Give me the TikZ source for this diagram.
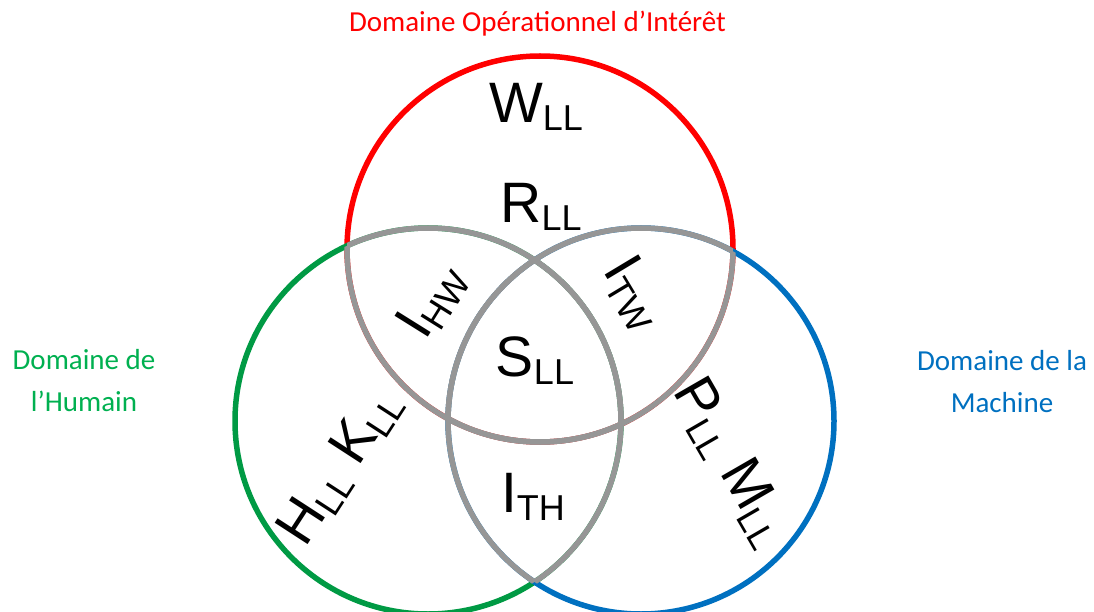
\documentclass[tikz,border=0pt]{standalone}
\usepackage{fontspec}
\setmainfont{Liberation Sans}
\newfontfamily\calib{Carlito}
\definecolor{cred}{HTML}{FF0000}
\definecolor{cgreen}{HTML}{009A44}
\definecolor{tgreen}{HTML}{00B050}
\definecolor{cblue}{HTML}{0070C0}
\definecolor{cgrey}{HTML}{969696}
\newcommand\mysub[2]{#1\raisebox{-8pt}{\fontsize{36}{36}\selectfont #2}}
\tikzset{
  ring/.style={line width=5.5pt},
  biglab/.style={inner sep=0pt, font=\fontsize{57}{57}\selectfont},
  domlab/.style={inner sep=0pt, align=center, font=\calib\fontsize{29}{42}\selectfont},
}
\begin{document}
\begin{tikzpicture}[x=1pt,y=-1pt]
\useasboundingbox (0,0) rectangle (1094,612);
\coordinate (cR) at (540,249);
\coordinate (cG) at (428,421);
\coordinate (cB) at (641,421);
\def\rr{193pt}
% coloured circles
\draw[ring, cred] (cR) circle[radius=\rr];
\draw[ring, cgreen] (cG) circle[radius=\rr];
\draw[ring, cblue] (cB) circle[radius=\rr];
% grey inner parts
\begin{scope}
  \clip (cG) circle[radius=\rr];
  \draw[ring, cgrey] (cR) circle[radius=\rr];
  \draw[ring, cgrey] (cB) circle[radius=\rr];
\end{scope}
\begin{scope}
  \clip (cB) circle[radius=\rr];
  \draw[ring, cgrey] (cR) circle[radius=\rr];
  \draw[ring, cgrey] (cG) circle[radius=\rr];
\end{scope}
\begin{scope}
  \clip (cR) circle[radius=\rr];
  \draw[ring, cgrey] (cG) circle[radius=\rr];
  \draw[ring, cgrey] (cB) circle[radius=\rr];
\end{scope}
% domain labels
\node[domlab, text=cred, anchor=base] (tR) at (537.5,32) {Domaine Opérationnel d’Intérêt};
\node[domlab, text=tgreen] (tG) at (84,381) {Domaine de\\l’Humain};
\node[domlab, text=cblue] (tB) at (1002,382) {Domaine de la\\Machine};
% region labels
\node[biglab] (W) at (536,107) {\mysub{W}{LL}};
\node[biglab] (R) at (541,207) {\mysub{R}{LL}};
\node[biglab] (S) at (535,361) {\mysub{S}{LL}};
\node[biglab] (ITH) at (533,497) {\mysub{I}{TH}};
\node[biglab, rotate=58] (IHW) at (432,301) {\mysub{I}{HW}};
\node[biglab, rotate=-59] (ITW) at (634,293) {\mysub{I}{TW}};
\node[biglab, rotate=57] (HK) at (340,467) {\mysub{H}{LL} \mysub{K}{LL}};
\node[biglab, rotate=-60] (PM) at (731,462) {\mysub{P}{LL} \mysub{M}{LL}};
\end{tikzpicture}
\end{document}
